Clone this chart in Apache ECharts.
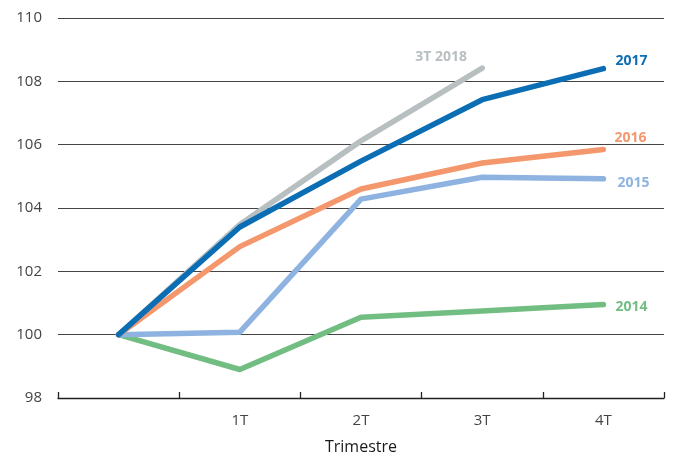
<!DOCTYPE html>
<html>
<head>
<meta charset="utf-8">
<script src="https://cdn.jsdelivr.net/npm/echarts@6/dist/echarts.min.js"></script>
<style>
  html, body { margin: 0; padding: 0; background: #fff; }
  #chart { width: 673px; height: 457px; }
</style>
</head>
<body>
<div id="chart"></div>
<script>
// Quarterly index (start = 100)
const quarters = ['', '1T', '2T', '3T', '4T'];
const s2014 = [100, 98.9, 100.55, 100.75, 100.95];
const s2015 = [100, 100.08, 104.28, 104.97, 104.92];
const s2016 = [100, 102.78, 104.6, 105.42, 105.85];
const s2017 = [100, 103.4, 105.48, 107.42, 108.4];
const s2018 = [100, 103.48, 106.12, 108.42];
const yTicks = { min: 98, max: 110, interval: 2 };

const font = "'Open Sans', 'Noto Sans', sans-serif";

function line(name, data, color, labelOffset, z) {
  return {
    name: name,
    type: 'line',
    data: data,
    symbol: 'none',
    z: z,
    lineStyle: { color: color, width: 5.5, cap: 'round', join: 'round' },
    endLabel: {
      show: true,
      formatter: name,
      color: color,
      fontFamily: font,
      fontWeight: 'bold',
      fontSize: 14,
      offset: labelOffset
    }
  };
}

const chart = echarts.init(document.getElementById('chart'), null, { renderer: 'canvas' });
chart.setOption({
  animation: false,
  grid: { left: 58, right: 9, top: 18, bottom: 59, containLabel: false, outerBoundsMode: 'none' },
  xAxis: {
    type: 'category',
    data: quarters,
    boundaryGap: true,
    name: 'Trimestre',
    nameLocation: 'middle',
    nameGap: 41,
    nameTextStyle: { fontFamily: font, fontSize: 16, color: '#1a1a1a' },
    axisLine: { lineStyle: { color: '#222', width: 1.3 } },
    axisTick: { show: true, length: 6, inside: true, lineStyle: { color: '#222', width: 1.3 } },
    axisLabel: { fontFamily: font, fontSize: 15, color: '#444', margin: 15 }
  },
  yAxis: {
    type: 'value',
    min: yTicks.min,
    max: yTicks.max,
    interval: yTicks.interval,
    axisLine: { show: false },
    axisTick: { show: false },
    axisLabel: { fontFamily: font, fontSize: 15, color: '#444', margin: 16 },
    splitLine: { lineStyle: { color: '#444', width: 1.2 } }
  },
  series: [
    line('2014', s2014, '#72be82', [4, 2], 2),
    line('2015', s2015, '#8eb3e1', [6, 4], 3),
    line('2016', s2016, '#f4976c', [3, -11], 4),
    line('2017', s2017, '#0b6db3', [4, -8], 6),
    line('3T 2018', s2018, '#b7bfc1', [-75, -11], 5)
  ]
});
</script>
</body>
</html>
